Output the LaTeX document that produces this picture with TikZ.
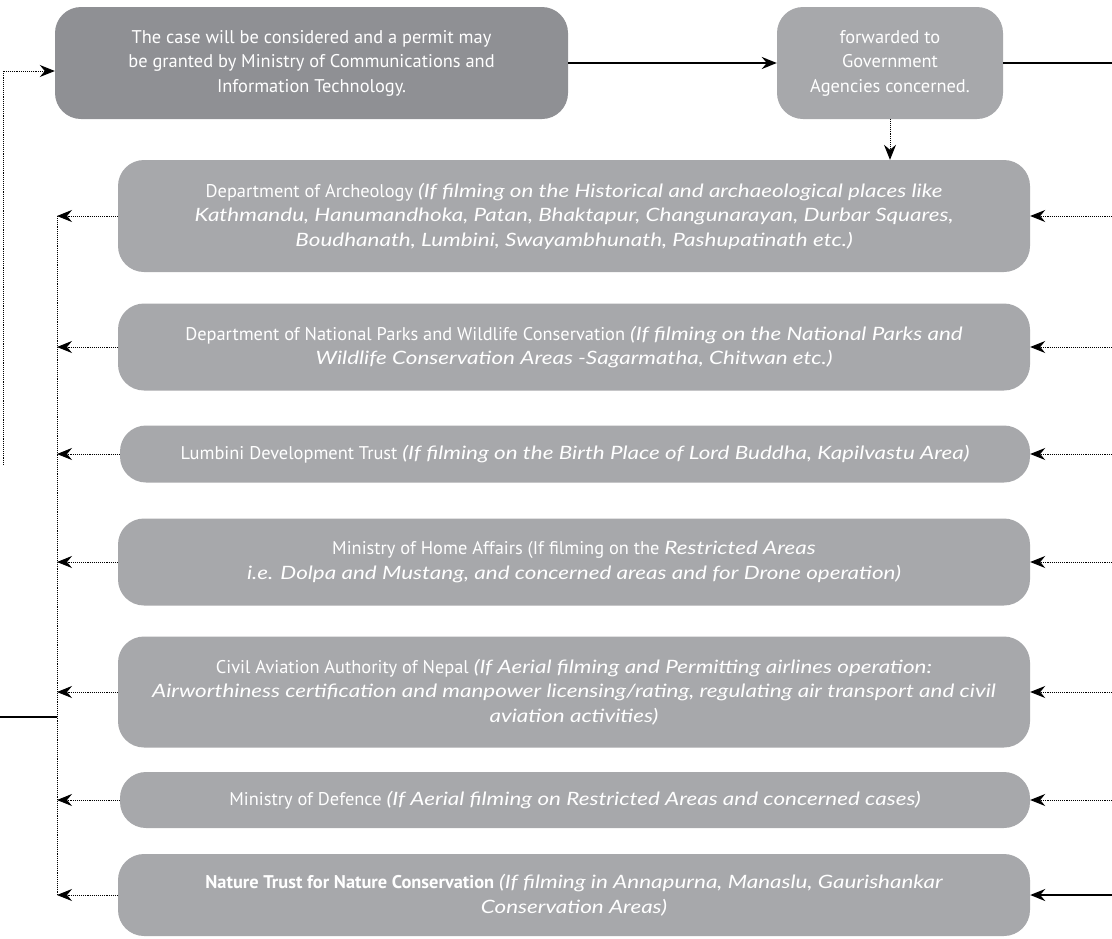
\documentclass[tikz,border=0pt]{standalone}
\usepackage{fontspec}
\setmainfont{PT Sans}
\newfontfamily\latofam{Lato}[FakeStretch=1.22]
\usetikzlibrary{arrows.meta}
\newcommand{\cnd}[1]{{\latofam\itshape #1}}
\definecolor{dkbg}{HTML}{8F9094}
\definecolor{ltbg}{HTML}{A7A8AB}
\tikzset{pxp/.style={
  x=1pt,
  y=-1pt
}}
\tikzset{bx/.style={
  shape=rectangle,
  rounded corners=26pt,
  text=white,
  align=center,
  inner sep=0pt,
  font=\fontsize{18.4}{24.5}\selectfont,
}}
\tikzset{dkbx/.style={bx,fill=dkbg}}
\tikzset{ltbx/.style={bx,fill=ltbg}}
\tikzset{dt/.style={densely dotted,line width=0.9pt}}
\tikzset{sl/.style={line width=2.2pt}}
\tikzset{dtar/.style={dt,-{Stealth[length=15pt,width=12pt,inset=5pt]}}}
\tikzset{slar/.style={sl,-{Stealth[length=15pt,width=12pt,inset=5pt]}}}

\begin{document}
\begin{tikzpicture}[pxp]
    \useasboundingbox (0,0) rectangle (1112,938);

    %% Top row

    \node[dkbx,minimum width=513pt,minimum height=112pt] (mcit) at (311.5,63)
      {The case will be considered and a permit may\\
       be granted by Ministry of Communications and\\
       Information Technology.};
    \node[ltbx,minimum width=226pt,minimum height=112pt] (fwd) at (890,63)
      {forwarded to\\ Government\\ Agencies concerned.};

    %% Agencies

    \node[ltbx,minimum width=912pt,minimum height=112pt] (doa) at (574,216)
      {Department of Archeology \cnd{(If filming on the Historical and archaeological places like}\\
       \cnd{Kathmandu, Hanumandhoka, Patan, Bhaktapur, Changunarayan, Durbar Squares,}\\
       \cnd{Boudhanath, Lumbini, Swayambhunath, Pashupatinath etc.)}};
    \node[ltbx,minimum width=912pt,minimum height=87pt] (dnp) at (574,347)
      {Department of National Parks and Wildlife Conservation \cnd{(If filming on the National Parks and}\\
       \cnd{Wildlife Conservation Areas -Sagarmatha, Chitwan etc.)}};
    \node[ltbx,minimum width=910pt,minimum height=57pt] (ldt) at (575,454)
      {Lumbini Development Trust \cnd{(If filming on the Birth Place of Lord Buddha, Kapilvastu Area)}};
    \node[ltbx,minimum width=912pt,minimum height=87pt] (moha) at (574,562)
      {Ministry of Home Affairs (If filming on the \cnd{Restricted Areas}\\
       \cnd{i.e. Dolpa and Mustang, and concerned areas and for Drone operation)}};
    \node[ltbx,minimum width=912pt,minimum height=111pt] (caan) at (574,692)
      {Civil Aviation Authority of Nepal \cnd{(If Aerial filming and Permitting airlines operation:}\\
       \cnd{Airworthiness certification and manpower licensing/rating, regulating air transport and civil}\\
       \cnd{aviation activities)}};
    \node[ltbx,minimum width=910pt,minimum height=56pt] (mod) at (575,800)
      {Ministry of Defence \cnd{(If Aerial filming on Restricted Areas and concerned cases)}};
    \node[ltbx,minimum width=912pt,minimum height=82pt] (ntnc) at (574,895)
      {\textbf{Nature Trust for Nature Conservation} \cnd{(If filming in Annapurna, Manaslu, Gaurishankar}\\
       \cnd{Conservation Areas)}};

    %% Connectors

    % Free ends
    \coordinate (bus) at (57,0);
    \coordinate (redge) at (1112,0);
    \coordinate (ledge) at (0,717);
    \coordinate (lback) at (3,465);

    % Top
    \draw[slar] (mcit.east) -- (fwd.west);
    \draw[sl] (fwd.east) -- (fwd.east -| redge);
    \draw[dtar] (fwd.south) -- (fwd.south |- doa.north);

    % Right side
    \foreach \ag in {doa,dnp,ldt,moha,caan,mod}
      \draw[dtar] (\ag.east -| redge) -- (\ag.east);
    \draw[slar] (ntnc.east -| redge) -- (ntnc.east);

    % Left side and the way back
    \foreach \ag in {doa,dnp,ldt,moha,caan,mod,ntnc}
      \draw[dtar] (\ag.west) -- (\ag.west -| bus);
    \draw[dt] (doa.west -| bus) -- (ntnc.west -| bus);
    \draw[sl] (ledge) -- (ledge -| bus);
    \draw[dtar] (lback) |- ([yshift=-8pt]mcit.west);

\end{tikzpicture}
\end{document}
